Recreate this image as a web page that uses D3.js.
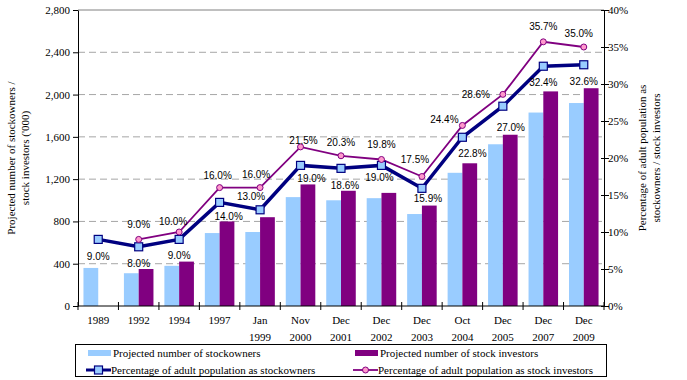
<!DOCTYPE html>
<html lang="en">
<head>
<meta charset="UTF-8">
<title>Stockowners and stock investors</title>
<style>
    body { margin: 0; padding: 0; background: #ffffff; }
    svg { display: block; }
    .tick text { font-family: "Liberation Serif", "Times New Roman", serif; font-size: 11px; fill: #000; }
    .lbl { font-family: "Liberation Sans", Arial, sans-serif; font-size: 10px; fill: #000; }
    .title { font-family: "Liberation Serif", "Times New Roman", serif; font-size: 11px; fill: #000; }
    .legend text { font-family: "Liberation Serif", "Times New Roman", serif; font-size: 11px; fill: #000; }
</style>
</head>
<body>
<svg id="chart" width="687" height="380"></svg>

<script src="https://d3js.org/d3.v7.min.js"></script>
<script>
    // data
    var categories = ['1989', '1992', '1994', '1997', 'Jan 1999', 'Nov 2000', 'Dec 2001',
        'Dec 2002', 'Dec 2003', 'Oct 2004', 'Dec 2005', 'Dec 2007', 'Dec 2009'];
    var stockowners = [360, 310, 380, 690, 700, 1030, 1000, 1020, 870, 1260, 1530, 1830, 1920];
    var investors = [null, 350, 420, 800, 840, 1150, 1090, 1070, 950, 1350, 1620, 2030, 2060];
    var pctOwners = [9.0, 8.0, 9.0, 14.0, 13.0, 19.0, 18.6, 19.0, 15.9, 22.8, 27.0, 32.4, 32.6];
    var pctInvestors = [null, 9.0, 10.0, 16.0, 16.0, 21.5, 20.3, 19.8, 17.5, 24.4, 28.6, 35.7, 35.0];
    var leftTicks = [0, 400, 800, 1200, 1600, 2000, 2400, 2800];
    var rightTicks = [0, 5, 10, 15, 20, 25, 30, 35, 40];

    // where each data label sits relative to its point (dx, dy)
    var ownerLabelOffset = [[0, 17], [0, 17], [0, 16], [9, 14], [-9, -13], [11, 13], [4, 17],
        [-2, 12], [6, 10], [10, 16], [8, 21], [0, 16], [0, 17]];
    var investorLabelOffset = [null, [0, -15], [-6, -11], [-2, -12], [-4, -13], [3, -6], [0, -13],
        [0, -15], [-7, -17], [-18, -6], [-27, 0], [0, -15], [-5, -14]];

    var colBlue = '#99ccff', colPurple = '#800080', colNavy = '#000080', colPink = '#ff99cc';

    var margin = { top: 10, left: 78, right: 83, bottom: 74 };
    var width = 687 - margin.left - margin.right;   // 526
    var height = 380 - margin.top - margin.bottom;  // 296

    var svg = d3.select('#chart')
        .append('g')
        .attr('transform', 'translate(' + margin.left + ',' + margin.top + ')');

    var x0 = d3.scaleBand()
        .domain(categories)
        .range([0, width])
        .paddingInner(0.27)
        .paddingOuter(0.135);

    var x1 = d3.scaleBand()
        .domain(['owners', 'investors'])
        .range([0, x0.bandwidth()]);

    var yLeft = d3.scaleLinear().domain([0, 2800]).range([height, 0]);
    var yRight = d3.scaleLinear().domain([0, 40]).range([height, 0]);

    var step = x0.step();
    var cx = function(i) { return x0(categories[i]) + x0.bandwidth() / 2; };

    // gridlines
    svg.append('g')
        .selectAll('line')
        .data(leftTicks.filter(function(d) { return d > 0 && d < 2800; }))
        .enter()
        .append('line')
        .attr('x1', 0).attr('x2', width)
        .attr('y1', function(d) { return yLeft(d); })
        .attr('y2', function(d) { return yLeft(d); })
        .attr('stroke', '#a6a6a6')
        .attr('stroke-dasharray', '7,4');

    svg.append('line')
        .attr('x1', 0).attr('x2', width)
        .attr('y1', yLeft(2800)).attr('y2', yLeft(2800))
        .attr('stroke', '#808080');

    // bars
    var rows = categories.map(function(c, i) {
        return { cat: c, owners: stockowners[i], investors: investors[i] };
    });

    var groups = svg.selectAll('.grp')
        .data(rows)
        .enter()
        .append('g')
        .attr('transform', function(d) { return 'translate(' + x0(d.cat) + ',0)'; });

    groups.selectAll('rect')
        .data(function(d) {
            return [{ key: 'owners', v: d.owners }, { key: 'investors', v: d.investors }]
                .filter(function(e) { return e.v != null; });
        })
        .enter()
        .append('rect')
        .attr('x', function(d) { return x1(d.key); })
        .attr('width', x1.bandwidth())
        .attr('y', function(d) { return yLeft(d.v); })
        .attr('height', function(d) { return height - yLeft(d.v); })
        .attr('fill', function(d) { return d.key === 'owners' ? colBlue : colPurple; });

    // axes
    var xAxis = svg.append('g').attr('transform', 'translate(0,' + height + ')');
    xAxis.append('line').attr('x1', 0).attr('x2', width).attr('stroke', '#000');
    xAxis.selectAll('.xt')
        .data(d3.range(categories.length + 1))
        .enter()
        .append('line')
        .attr('x1', function(i) { return i * step; })
        .attr('x2', function(i) { return i * step; })
        .attr('y1', -4).attr('y2', 4)
        .attr('stroke', '#000');

    var xLabels = xAxis.selectAll('.xl')
        .data(categories)
        .enter()
        .append('text')
        .attr('class', 'title')
        .attr('text-anchor', 'middle')
        .attr('x', function(d, i) { return cx(i); });
    xLabels.selectAll('tspan')
        .data(function(d) { return d.split(' '); })
        .enter()
        .append('tspan')
        .attr('x', function() { return d3.select(this.parentNode).attr('x'); })
        .attr('y', function(d, j) { return 18 + j * 17; })
        .text(function(d) { return d; });

    svg.append('g')
        .call(d3.axisLeft(yLeft).tickValues(leftTicks).tickSize(5).tickSizeOuter(0)
            .tickFormat(d3.format(',')))
        .call(function(g) {
            g.select('.domain').attr('stroke', '#000');
            g.selectAll('.tick line').attr('stroke', '#000');
            g.selectAll('.tick text').attr('x', -8);
        });

    var rAxis = svg.append('g')
        .attr('transform', 'translate(' + width + ',0)')
        .call(d3.axisRight(yRight).tickValues(rightTicks).tickSize(5).tickSizeOuter(0)
            .tickFormat(function(d) { return d + '%'; }));
    rAxis.select('.domain').attr('stroke', '#000');
    rAxis.selectAll('.tick line').attr('stroke', '#000').attr('x1', -3);
    rAxis.selectAll('.tick text').attr('x', 4);

    // lines
    var lineOwners = d3.line()
        .x(function(d) { return cx(d.i); })
        .y(function(d) { return yRight(d.v); });

    var ownerPts = pctOwners.map(function(v, i) { return { i: i, v: v }; });
    var investorPts = pctInvestors.map(function(v, i) { return { i: i, v: v }; })
        .filter(function(d) { return d.v != null; });

    svg.append('path')
        .datum(investorPts)
        .attr('d', lineOwners)
        .attr('fill', 'none')
        .attr('stroke', colPurple)
        .attr('stroke-width', 1.8);

    svg.append('path')
        .datum(ownerPts)
        .attr('d', lineOwners)
        .attr('fill', 'none')
        .attr('stroke', colNavy)
        .attr('stroke-width', 3.5);

    svg.selectAll('.sq')
        .data(ownerPts)
        .enter()
        .append('rect')
        .attr('x', function(d) { return cx(d.i) - 4; })
        .attr('y', function(d) { return yRight(d.v) - 4; })
        .attr('width', 8).attr('height', 8)
        .attr('fill', colBlue)
        .attr('stroke', colNavy)
        .attr('stroke-width', 1.2);

    svg.selectAll('.dot')
        .data(investorPts)
        .enter()
        .append('circle')
        .attr('cx', function(d) { return cx(d.i); })
        .attr('cy', function(d) { return yRight(d.v); })
        .attr('r', 3)
        .attr('fill', colPink)
        .attr('stroke', colPurple)
        .attr('stroke-width', 1);

    // data labels
    svg.selectAll('.lo')
        .data(ownerPts)
        .enter()
        .append('text')
        .attr('class', 'lbl')
        .attr('text-anchor', 'middle')
        .attr('dy', '0.35em')
        .attr('x', function(d) { return cx(d.i) + ownerLabelOffset[d.i][0]; })
        .attr('y', function(d) { return yRight(d.v) + ownerLabelOffset[d.i][1]; })
        .text(function(d) { return d.v.toFixed(1) + '%'; });

    svg.selectAll('.li')
        .data(investorPts)
        .enter()
        .append('text')
        .attr('class', 'lbl')
        .attr('text-anchor', 'middle')
        .attr('dy', '0.35em')
        .attr('x', function(d) { return cx(d.i) + investorLabelOffset[d.i][0]; })
        .attr('y', function(d) { return yRight(d.v) + investorLabelOffset[d.i][1]; })
        .text(function(d) { return d.v.toFixed(1) + '%'; });

    // axis titles
    var root = d3.select('#chart');
    root.append('text')
        .attr('class', 'title')
        .attr('text-anchor', 'middle')
        .attr('transform', 'translate(15,158) rotate(-90)')
        .selectAll('tspan')
        .data(['Projected number of stockowners /', "stock investors ('000)"])
        .enter()
        .append('tspan')
        .attr('x', 0)
        .attr('y', function(d, i) { return i * 14; })
        .text(function(d) { return d; });

    root.append('text')
        .attr('class', 'title')
        .attr('text-anchor', 'middle')
        .attr('transform', 'translate(646,158) rotate(-90)')
        .selectAll('tspan')
        .data(['Percentage of adult population as', 'stockowners / stock investors'])
        .enter()
        .append('tspan')
        .attr('x', 0)
        .attr('y', function(d, i) { return i * 14; })
        .text(function(d) { return d; });

    // legend
    var legend = root.append('g').attr('class', 'legend');
    legend.append('rect')
        .attr('x', 75.5).attr('y', 344.5)
        .attr('width', 531).attr('height', 32)
        .attr('fill', '#fff')
        .attr('stroke', '#000');

    var legendItems = [
        { name: 'Projected number of stockowners', type: 'bar', color: colBlue, x: 88, y: 353 },
        { name: 'Projected number of stock investors', type: 'bar', color: colPurple, x: 355, y: 353 },
        { name: 'Percentage of adult population as stockowners', type: 'sq', color: colNavy, x: 86, y: 370 },
        { name: 'Percentage of adult population as stock investors', type: 'dot', color: colPurple, x: 353, y: 370 }
    ];

    legendItems.forEach(function(d) {
        var g = legend.append('g');
        if (d.type === 'bar') {
            g.append('rect').attr('x', d.x).attr('y', d.y - 3)
                .attr('width', 23).attr('height', 6).attr('fill', d.color);
        } else {
            g.append('line').attr('x1', d.x).attr('x2', d.x + 25)
                .attr('y1', d.y).attr('y2', d.y)
                .attr('stroke', d.color).attr('stroke-width', d.type === 'sq' ? 3 : 1.8);
            if (d.type === 'sq') {
                g.append('rect').attr('x', d.x + 8.5).attr('y', d.y - 4)
                    .attr('width', 8).attr('height', 8)
                    .attr('fill', colBlue).attr('stroke', colNavy).attr('stroke-width', 1.2);
            } else {
                g.append('circle').attr('cx', d.x + 12.5).attr('cy', d.y).attr('r', 3)
                    .attr('fill', colPink).attr('stroke', colPurple);
            }
        }
        g.append('text')
            .attr('x', d.x + 25)
            .attr('y', d.y)
            .attr('dy', '0.35em')
            .text(d.name);
    });
</script>
</body>
</html>
